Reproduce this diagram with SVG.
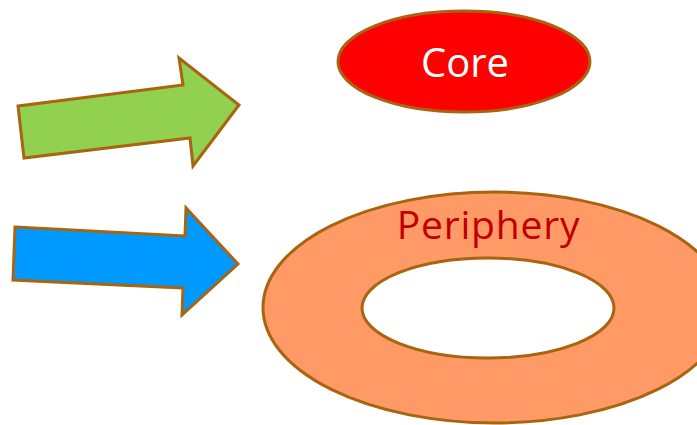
<svg xmlns="http://www.w3.org/2000/svg" width="697" height="425" viewBox="0 0 697 425">
<style>
.sh{stroke:#A8640F;stroke-width:3;stroke-linejoin:miter}
.lbl{font-family:"Open Sans","Noto Sans",sans-serif;text-anchor:middle}
</style>
<rect width="697" height="425" fill="#fff"/>
<g id="arrow-green">
<polygon class="sh" fill="#92D050" points="18,106 183,85 179,58 239,105 193,166 190,138 24,158"/>
</g>
<g id="arrow-blue">
<polygon class="sh" fill="#0099FF" points="15,227 185,236 186,208 238,264 182,315 183,288 13,280"/>
</g>
<g id="core">
<ellipse class="sh" fill="#FF0000" cx="464" cy="61.5" rx="126" ry="50.5"/>
<text class="lbl" x="465" y="77" font-size="40" fill="#fff">Core</text>
</g>
<g id="periphery">
<path class="sh" fill="#FF9966" fill-rule="evenodd" d="M263,307.5 a231.5,115.5 0 1,0 463,0 a231.5,115.5 0 1,0 -463,0 Z M362,308 a126,50 0 1,0 252,0 a126,50 0 1,0 -252,0 Z"/>
<text class="lbl" x="488.5" y="239" font-size="39" letter-spacing="0.8" fill="#C00000">Periphery</text>
</g>
</svg>
